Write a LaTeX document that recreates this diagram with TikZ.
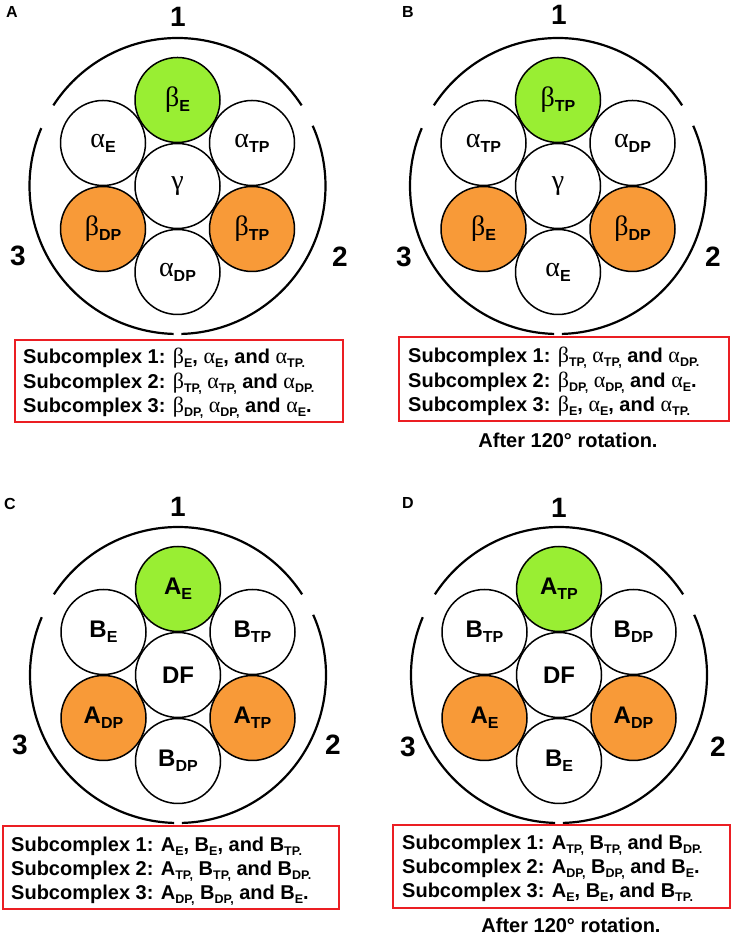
\documentclass[tikz,border=0pt]{standalone}
\usepackage{fontspec}
\setmainfont{Liberation Sans}
\newfontfamily\grk{Liberation Serif}
\usetikzlibrary{calc}
\definecolor{lime}{RGB}{153,238,51}
\definecolor{orng}{RGB}{248,154,56}
\definecolor{boxred}{RGB}{235,30,35}
\newcommand\gl[1]{{\grk\mdseries\fontsize{28}{28}\selectfont #1}}
\newcommand\cs[1]{\raisebox{-5pt}{\fontsize{16}{16}\selectfont #1}}
\newcommand\gb[1]{{\grk\mdseries\fontsize{22}{22}\selectfont #1}}
\newcommand\bs[1]{\raisebox{-3.5pt}{\fontsize{12.5}{12.5}\selectfont #1}}
\tikzset{
 sub/.style={circle, draw=black, line width=1.5pt, minimum size=85pt, inner sep=0pt, font=\bfseries\fontsize{24}{24}\selectfont},
 ring/.style={line width=2.2pt},
 num/.style={anchor=base, font=\bfseries\fontsize{28}{28}\selectfont, inner sep=0pt},
 plabel/.style={anchor=base, font=\bfseries\fontsize{16}{16}\selectfont, inner sep=0pt},
 redbox/.style={draw=boxred, line width=1.8pt},
 txtline/.style={anchor=base west, inner sep=0pt, font=\bfseries\fontsize{20}{20}\selectfont},
 note/.style={anchor=base, inner sep=0pt, font=\bfseries\fontsize{20}{20}\selectfont},
}
% #1 prefix, #2 centre, #3 top, #4 upper left, #5 upper right, #6 lower left, #7 lower right, #8 bottom
\newcommand\hexpanel[8]{%
 \node[sub] (#1-c) at (#1) {#2};
 \node[sub, fill=lime] (#1-t) at ($(#1)+(0,86)$) {#3};
 \node[sub] (#1-ul) at ($(#1)+(-74.5,43)$) {#4};
 \node[sub] (#1-ur) at ($(#1)+(74.5,43)$) {#5};
 \node[sub, fill=orng] (#1-ll) at ($(#1)+(-74.5,-43)$) {#6};
 \node[sub, fill=orng] (#1-lr) at ($(#1)+(74.5,-43)$) {#7};
 \node[sub] (#1-b) at ($(#1)+(0,-86)$) {#8};
 \draw[ring] ($(#1)+(33:148)$) arc[start angle=33, end angle=147, radius=148];
 \draw[ring] ($(#1)+(157:148)$) arc[start angle=157, end angle=268.5, radius=148];
 \draw[ring] ($(#1)+(-88.5:148)$) arc[start angle=-88.5, end angle=24, radius=148];
}
\begin{document}
\begin{tikzpicture}[x=1pt, y=1pt]
\useasboundingbox (0,0) rectangle (733,936);
\coordinate (A) at (177.5,750);
\coordinate (B) at (558,750);
\coordinate (C) at (178,261);
\coordinate (D) at (559,261);

% Panel A
\hexpanel{A}{\gl{γ}}{\gl{β}\cs{E}}{\gl{α}\cs{E}}{\gl{α}\cs{TP}}{\gl{β}\cs{DP}}{\gl{β}\cs{TP}}{\gl{α}\cs{DP}}
\node[plabel] (A-lab) at (12,918) {A};
\node[num] (A-n1) at (178,909) {1};
\node[num] (A-n3) at (18,670) {3};
\node[num] (A-n2) at (340,669) {2};
\draw[redbox] (15,514) rectangle (343,596);
\node[txtline] (A-l1) at (23,572) {Subcomplex 1: \gb{β}\bs{E}, \gb{α}\bs{E}, and \gb{α}\bs{TP.}};
\node[txtline] (A-l2) at (23,547) {Subcomplex 2: \gb{β}\bs{TP,} \gb{α}\bs{TP,} and \gb{α}\bs{DP.}};
\node[txtline] (A-l3) at (23,523) {Subcomplex 3: \gb{β}\bs{DP,} \gb{α}\bs{DP,} and \gb{α}\bs{E}.};

% Panel B
\hexpanel{B}{\gl{γ}}{\gl{β}\cs{TP}}{\gl{α}\cs{TP}}{\gl{α}\cs{DP}}{\gl{β}\cs{E}}{\gl{β}\cs{DP}}{\gl{α}\cs{E}}
\node[plabel] (B-lab) at (408,918) {B};
\node[num] (B-n1) at (559,911) {1};
\node[num] (B-n3) at (404,669) {3};
\node[num] (B-n2) at (713,669) {2};
\draw[redbox] (399,515) rectangle (729,599);
\node[txtline] (B-l1) at (408,573) {Subcomplex 1: \gb{β}\bs{TP,} \gb{α}\bs{TP,} and \gb{α}\bs{DP.}};
\node[txtline] (B-l2) at (408,548) {Subcomplex 2: \gb{β}\bs{DP,} \gb{α}\bs{DP,} and \gb{α}\bs{E}.};
\node[txtline] (B-l3) at (408,524) {Subcomplex 3: \gb{β}\bs{E}, \gb{α}\bs{E}, and \gb{α}\bs{TP.}};
\node[note] (B-rot) at (568,488) {After 120° rotation.};

% Panel C
\hexpanel{C}{DF}{A\cs{E}}{B\cs{E}}{B\cs{TP}}{A\cs{DP}}{A\cs{TP}}{B\cs{DP}}
\node[plabel] (C-lab) at (10,426) {C};
\node[num] (C-n1) at (178,419) {1};
\node[num] (C-n3) at (20,181) {3};
\node[num] (C-n2) at (333,181) {2};
\draw[redbox] (3,27) rectangle (339,110);
\node[txtline] (C-l1) at (11,84) {Subcomplex 1: A\bs{E}, B\bs{E}, and B\bs{TP.}};
\node[txtline] (C-l2) at (11,60) {Subcomplex 2: A\bs{TP,} B\bs{TP,} and B\bs{DP.}};
\node[txtline] (C-l3) at (11,36) {Subcomplex 3: A\bs{DP,} B\bs{DP,} and B\bs{E}.};

% Panel D
\hexpanel{D}{DF}{A\cs{TP}}{B\cs{TP}}{B\cs{DP}}{A\cs{E}}{A\cs{DP}}{B\cs{E}}
\node[plabel] (D-lab) at (408,427) {D};
\node[num] (D-n1) at (559,418) {1};
\node[num] (D-n3) at (408,179) {3};
\node[num] (D-n2) at (718,179) {2};
\draw[redbox] (393,28) rectangle (730,111);
\node[txtline] (D-l1) at (402,86) {Subcomplex 1: A\bs{TP,} B\bs{TP,} and B\bs{DP.}};
\node[txtline] (D-l2) at (402,62) {Subcomplex 2: A\bs{DP,} B\bs{DP,} and B\bs{E}.};
\node[txtline] (D-l3) at (402,38) {Subcomplex 3: A\bs{E}, B\bs{E}, and B\bs{TP.}};
\node[note] (D-rot) at (571,4) {After 120° rotation.};
\end{tikzpicture}
\end{document}
